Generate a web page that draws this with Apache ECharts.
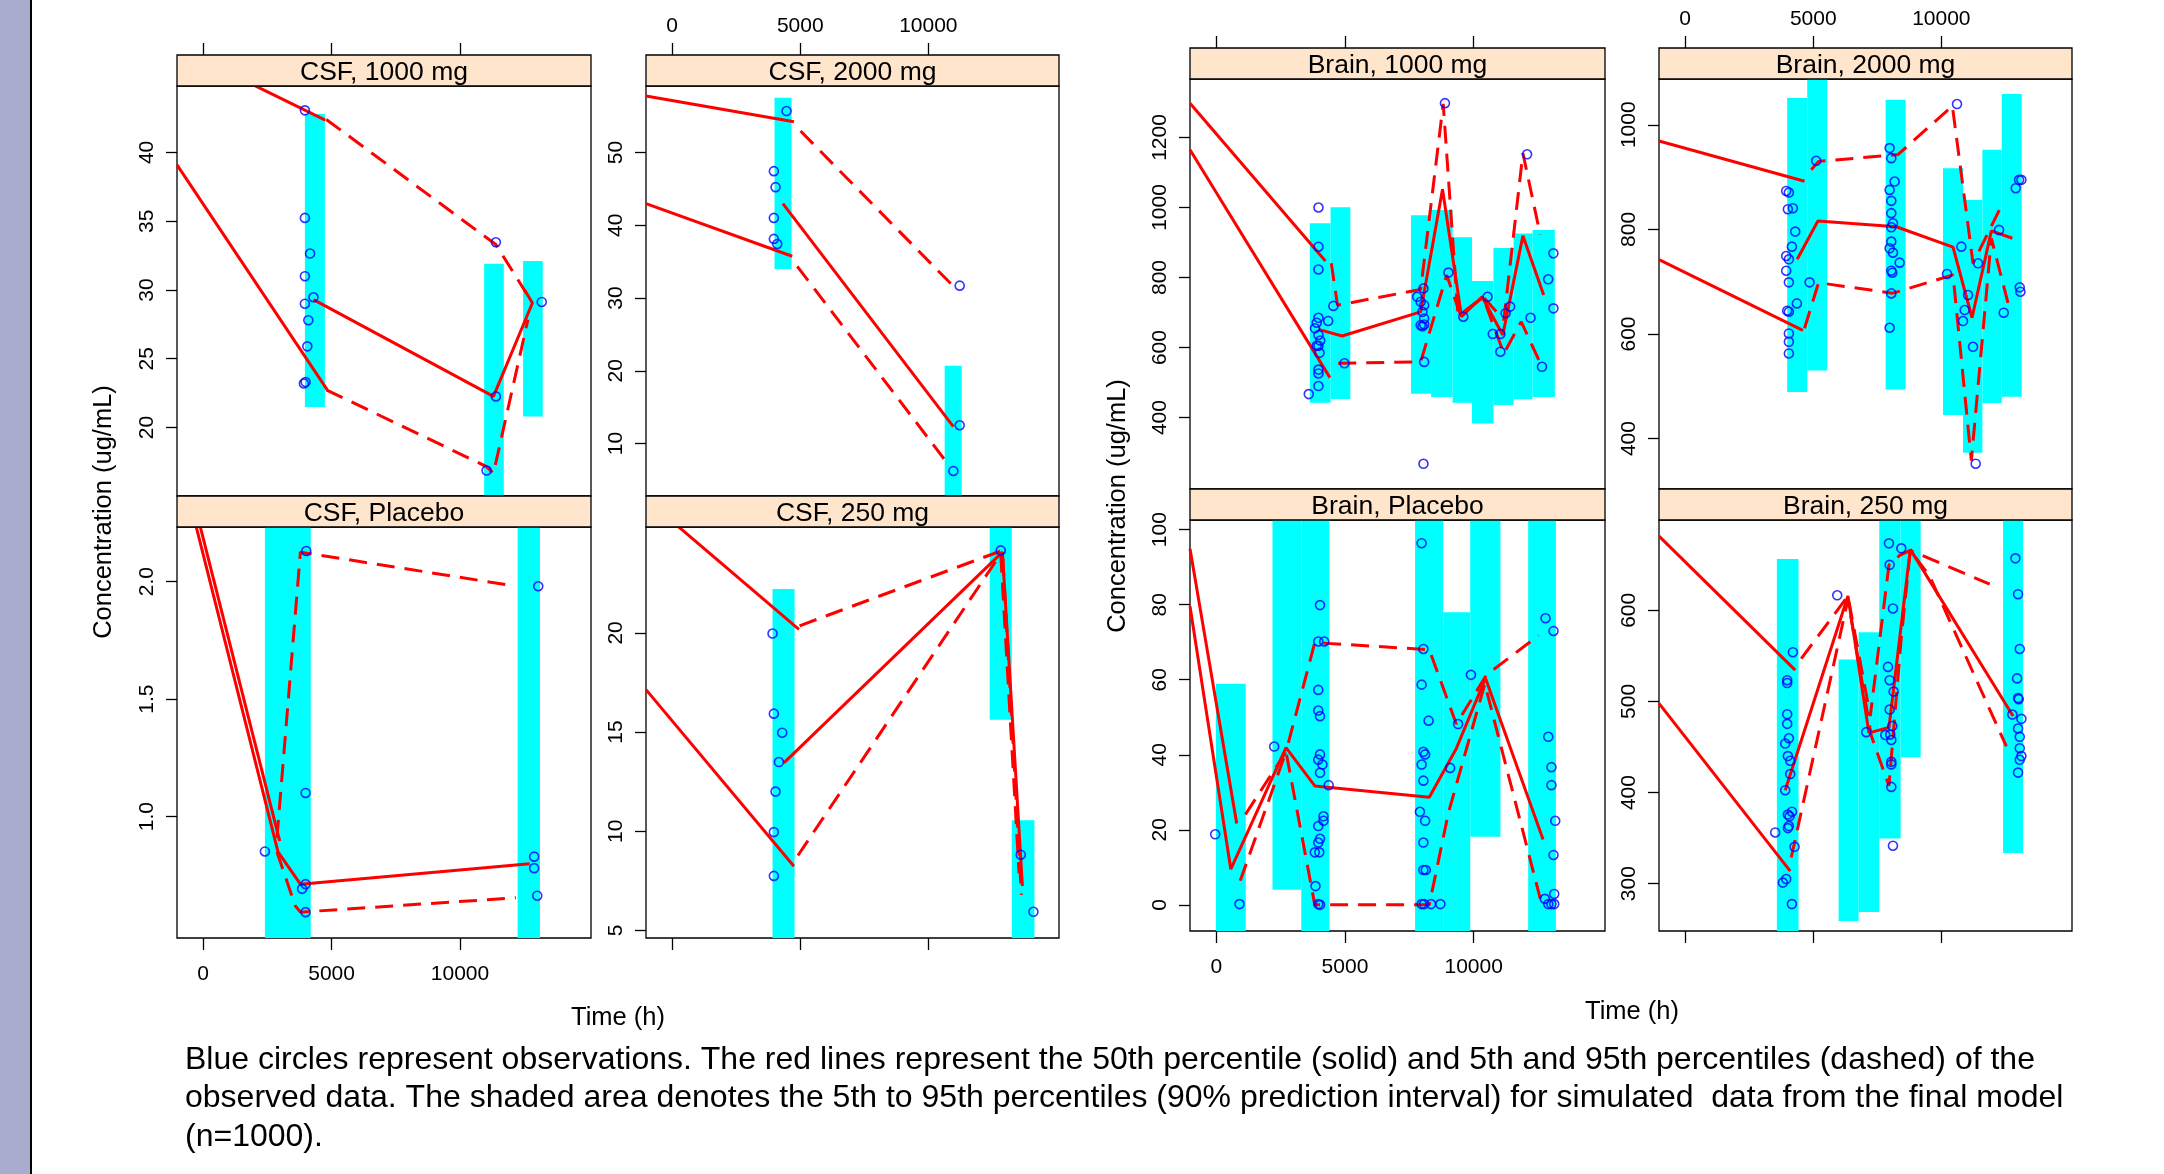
<!DOCTYPE html>
<html>
<head>
<meta charset="utf-8">
<script src="https://cdn.jsdelivr.net/npm/echarts@6/dist/echarts.min.js"></script>
<style>
html,body{margin:0;padding:0;background:#fff;}
#chart{width:2164px;height:1174px;}
</style>
</head>
<body>
<div id="chart"></div>
<script>
// ---------------- DATA ----------------
// time axis shared by all panels
const X_RANGE = [-1020, 15100];
const X_TICKS = [0, 5000, 10000];

// ---- CSF, 1000 mg ----
const CSF1000_Y = [15.02, 44.83];
const CSF1000_YTICKS = [20, 25, 30, 35, 40];
const CSF1000_PI = [[3960,4738,21.5,42.8],[10940,11705,10,31.9],[12456,13221,20.8,32.1]];
const CSF1000_SOLID = [
  [[-1020,39.1],[4832,22.74]],
  [[-1020,47.63],[4752,42.35]],
  [[4295,29.3],[11302,22.26],[12819,29.05],[12510,30.02]]
];
const CSF1000_DASHED = [
  [[4792,42.4],[11396,33.3],[12577,29.78]],
  [[4792,22.74],[11034,17.16],[11302,16.67],[12644,27.84]]
];
const CSF1000_OBS = [[3960,43.06],[3960,35.24],[4161,32.65],[3960,31.0],[4295,29.47],[3960,29.0],[4094,27.8],[4054,25.9],[3920,23.2],[3987,23.3],[11396,33.47],[11396,22.26],[11034,16.87],[13181,29.13]];

// ---- CSF, 2000 mg ----
const CSF2000_Y = [2.8, 59.13];
const CSF2000_YTICKS = [10, 20, 30, 40, 50];
const CSF2000_PI = [[3997,4661,33.99,57.52],[10638,11302,0,20.69]];
const CSF2000_SOLID = [
  [[-1020,57.75],[4753,54.22]],
  [[-1020,42.98],[4688,35.74]],
  [[4323,42.98],[10977,12.34]]
];
const CSF2000_DASHED = [
  [[5013,52.94],[10938,31.75]],
  [[4883,34.36],[10742,7.30]]
];
const CSF2000_OBS = [[4466,55.69],[3971,47.43],[4037,45.23],[3971,41.01],[3971,38.12],[4102,37.43],[11224,31.70],[11224,12.52],[10977,6.24]];

// ---- CSF, Placebo ----
const CSFPLA_Y = [0.484, 2.232];
const CSFPLA_YTICKS = [1.0, 1.5, 2.0];
const CSFPLA_PI = [[2403,4188,0,3],[12242,13114,0,3]];
const CSFPLA_SOLID = [
  [[-1020,2.558],[2913,0.85],[3785,0.713],[12711,0.80]],
  [[-1020,2.625],[2980,0.896]]
];
const CSFPLA_DASHED = [
  [[2872,0.91],[3785,2.125],[11907,1.985]],
  [[2872,0.85],[3584,0.621],[3785,0.594],[12175,0.655]]
];
const CSFPLA_OBS = [[2403,0.852],[4013,2.130],[3987,1.101],[3987,0.713],[3852,0.693],[3987,0.594],[13047,1.980],[12886,0.830],[12886,0.781],[13007,0.664]];

// ---- CSF, 250 mg ----
const CSF250_Y = [4.62, 25.34];
const CSF250_YTICKS = [5, 10, 15, 20];
const CSF250_PI = [[3919,4779,0,22.21],[12396,13255,15.62,30],[13255,14141,0,10.56]];
const CSF250_SOLID = [
  [[-1020,26.75],[4948,20.18]],
  [[-1020,17.14],[4753,8.24]],
  [[4362,13.45],[12891,24.07],[13672,7.24]]
];
const CSF250_DASHED = [
  [[4974,20.36],[12891,24.16],[13633,6.79]],
  [[4909,8.78],[12826,23.98],[13542,7.88]]
];
const CSF250_OBS = [[3919,19.97],[3971,15.93],[4297,14.97],[4167,13.49],[4036,12.00],[3971,9.96],[3971,7.75],[12826,24.16],[13607,8.82],[14102,5.94]];

// ---- Brain, 1000 mg ----
const BR1000_Y = [196, 1367];
const BR1000_YTICKS = [400, 600, 800, 1000, 1200];
const BR1000_PI = [[3634,4441,442,955],[4441,5208,453,1001],[7564,8345,468,978],[8345,9179,459,993],[9179,9933,442,915],[9933,10767,383,790],[10767,11548,436,884],[11548,12288,452,926],[12288,13150,459,936]];
const BR1000_SOLID = [
  [[-1020,1298],[4240,847]],
  [[-1020,1165],[4415,514]],
  [[3970,652],[4886,633],[7941,702],[8789,1052],[9529,688],[10323,745],[11131,636],[11911,919],[12719,750]]
];
const BR1000_DASHED = [
  [[4468,841],[4711,721],[7941,766],[8816,1296],[9394,690],[10363,745],[11171,679],[11911,1155],[12584,922]],
  [[4738,555],[7941,559],[8950,807],[9489,693],[10363,743],[11171,583],[11844,674],[12652,545]]
];
const BR1000_OBS = [[3970,1000],[3970,888],[3970,823],[4549,719],[4347,676],[3970,685],[3903,671],[3836,655],[3970,636],[4038,620],[3970,605],[3903,605],[4011,585],[3970,537],[3970,526],[3970,490],[3594,467],[4980,555],
  [7806,745],[8048,769],[7941,731],[8075,721],[8008,702],[8075,683],[8008,661],[8075,666],[7941,664],[8075,559],[8048,268],[8883,1298],[9017,814],[9596,688],[10538,745],[10740,639],[11036,639],[11036,588],[11238,698],[11413,717],[12073,1152],[12208,685],[12652,545],[12894,795],[13096,869],[13096,712]];

// ---- Brain, 2000 mg ----
const BR2000_Y = [303.6, 1087.5];
const BR2000_YTICKS = [400, 600, 800, 1000];
const BR2000_PI = [[3984,4766,489,1051],[4766,5547,530,1150],[7826,8607,494,1048],[10065,10846,445,917],[10846,11602,373,856],[11602,12357,468,952],[12357,13138,480,1059]];
const BR2000_SOLID = [
  [[-1020,969],[4661,892]],
  [[-1020,742],[4596,607]],
  [[4375,743],[5182,816],[8242,805],[10456,766],[11198,631],[11953,797],[12773,783]]
];
const BR2000_DASHED = [
  [[4922,914],[5208,930],[8307,943],[10430,1036],[11237,735],[12344,845]],
  [[4661,611],[5208,698],[8112,678],[10456,713],[11172,358],[11953,783],[12604,659]]
];
const BR2000_OBS = [[3945,873.5],[4049,870.4],[4010,838.5],[4206,840.4],[4297,795.7],[4167,767.0],[3945,749.1],[4049,742.8],[3945,721.0],[4049,698.7],[4362,658.5],[3984,644.5],[4049,642.5],[4049,601.0],[4049,585.1],[4049,562.7],[4857,698.7],[5117,931.1],
  [7982,955.4],[8047,936.2],[8177,891.5],[7982,875.5],[8047,854.5],[8047,831.0],[8112,811.7],[8047,804.0],[8047,776.6],[7982,763.8],[8112,755.5],[8372,736.4],[8047,721.0],[8086,717.2],[8047,677.6],[7982,611.9],
  [10612,1039.6],[10222,714.7],[10781,767.0],[11042,674.5],[10912,645.7],[10846,624.7],[11237,575.5],[11341,352.0],[11432,735.1],[12253,799.0],[12435,640.6],[12904,878.7],[13034,894.7],[13125,894.7],[13060,689.1],[13086,680.8]];

// ---- Brain, Placebo ----
const BRPLA_Y = [-6.97, 102.58];
const BRPLA_YTICKS = [0, 20, 40, 60, 80, 100];
const BRPLA_PI = [[-13,1146,-20,58.9],[2183,3302,4.0,120],[3302,4394,-20,120],[7722,8814,-20,120],[8814,9865,-20,78.0],[9865,11038,18.15,120],[12116,13194,-20,120]];
const BRPLA_SOLID = [
  [[-1020,94.9],[795,21.7]],
  [[-1020,79.6],[566,9.5],[2709,41.9],[3828,31.7],[8275,28.7],[9326,41.7],[10458,60.4],[12695,17.4]]
];
const BRPLA_DASHED = [
  [[1132,24.07],[2709,40.8],[3828,69.9],[8275,68.0],[9326,48.2],[10499,61.3],[12520,71.8]],
  [[930,6.4],[2709,40.8],[3828,0],[8275,0],[9016,24.5],[10432,58.9],[12588,1.6]]
];
const BRPLA_OBS = [[-40,18.8],[903,0.2],[2251,42.2],[4030,79.9],[3963,70.2],[4192,70.2],[3963,57.3],[3963,51.8],[4030,50.3],[4030,40.1],[3963,38.7],[4124,37.4],[4030,35.2],[4367,31.9],[4165,23.6],[4165,22.4],[3963,21.0],[4030,17.6],[3963,16.6],[3828,14.0],[4003,14.0],[3855,5.0],[3963,0.2],[4030,0],
  [7978,96.4],[8046,68.2],[7978,58.7],[8046,40.8],[8113,40.1],[7978,37.4],[8046,33.1],[8248,49.1],[7911,24.8],[8113,22.4],[8046,16.6],[8046,9.3],[8140,9.3],[7978,0.2],[8073,0.2],[8342,0.2],[8706,0.2],[9084,36.5],[9394,48.2],[9892,61.3],
  [12790,76.4],[13100,73.0],[12898,44.8],[13019,36.7],[13019,31.9],[13167,22.4],[13100,13.3],[13127,2.9],[12763,1.6],[12898,0.2],[13019,0.2],[13127,0.2]];

// ---- Brain, 250 mg ----
const BR250_Y = [248.1, 699.1];
const BR250_YTICKS = [300, 400, 500, 600];
const BR250_PI = [[3581,4427,200,656.2],[5990,6771,259.1,546.1],[6771,7578,268.9,576.0],[7578,8411,349.5,720],[8411,9193,438.8,720],[12409,13190,333.8,720]];
const BR250_SOLID = [
  [[-1020,681.4],[4297,534.3]],
  [[-1020,497.8],[4102,313.8]],
  [[3906,402.6],[6354,615.7],[7174,465.5],[7956,471.4],[8789,666.9],[12799,484.0]]
];
const BR250_DASHED = [
  [[4531,546.9],[6354,615.7],[7227,484.0],[7956,649.9],[8372,660.2],[8789,665.7],[11888,628.7]],
  [[4141,328.7],[6354,611.8],[7266,462.4],[7956,407.3],[8438,570.5],[8789,665.7],[9544,637.4],[12539,450.6]]
];
const BR250_OBS = [[4206,554],[3984,523.3],[3984,520.2],[3984,486],[3984,475.4],[4050,459.6],[3906,453.8],[4010,440],[4102,434.9],[4102,420.3],[3906,402.6],[4010,375.9],[4076,373.9],[4167,379],[4050,363.3],[4010,361],[3516,356.2],[4271,340.5],[3945,305.1],[3815,301.2],[4167,277.6],
  [5937,616.5],[7070,466.3],[7813,463.2],[7956,673.5],[7982,649.9],[8112,602],[7917,537.9],[7982,523.3],[8138,510.8],[7982,491.1],[8086,473],[8008,463.6],[8047,457.7],[8047,433.7],[8047,430.9],[8047,406.2],[8112,341.7],[8437,668],
  [12891,657],[12995,617.7],[13060,557.6],[12956,525.3],[12995,503.7],[13021,502.5],[12773,485.6],[13125,480.9],[12995,470.3],[13060,461.2],[13060,448.7],[13125,440],[13060,436],[12995,421.9]];

const PANEL_TITLES = ['CSF, 1000 mg','CSF, 2000 mg','CSF, Placebo','CSF, 250 mg','Brain, 1000 mg','Brain, 2000 mg','Brain, Placebo','Brain, 250 mg'];
const Y_TITLE = 'Concentration (ug/mL)';
const X_TITLE = 'Time (h)';
const CAPTION = [
  'Blue circles represent observations. The red lines represent the 50th percentile (solid) and 5th and 95th percentiles (dashed) of the',
  'observed data. The shaded area denotes the 5th to 95th percentiles (90% prediction interval) for simulated  data from the final model',
  '(n=1000).'
];

// ---------------- LAYOUT ----------------
const FONT = '"Liberation Sans", Arial, Helvetica, sans-serif';
const STRIP_H = 31;
const TICK_FONT = 21;
const PANELS = [
  {data:[CSF1000_Y,CSF1000_YTICKS,CSF1000_PI,CSF1000_SOLID,CSF1000_DASHED,CSF1000_OBS], left:177, top:86, w:414, h:410, xpos:'top', xlab:false},
  {data:[CSF2000_Y,CSF2000_YTICKS,CSF2000_PI,CSF2000_SOLID,CSF2000_DASHED,CSF2000_OBS], left:646, top:86, w:413, h:410, xpos:'top', xlab:true},
  {data:[CSFPLA_Y,CSFPLA_YTICKS,CSFPLA_PI,CSFPLA_SOLID,CSFPLA_DASHED,CSFPLA_OBS], left:177, top:527, w:414, h:411, xpos:'bottom', xlab:true, fmt:1},
  {data:[CSF250_Y,CSF250_YTICKS,CSF250_PI,CSF250_SOLID,CSF250_DASHED,CSF250_OBS], left:646, top:527, w:413, h:411, xpos:'bottom', xlab:false},
  {data:[BR1000_Y,BR1000_YTICKS,BR1000_PI,BR1000_SOLID,BR1000_DASHED,BR1000_OBS], left:1190, top:79, w:415, h:410, xpos:'top', xlab:false},
  {data:[BR2000_Y,BR2000_YTICKS,BR2000_PI,BR2000_SOLID,BR2000_DASHED,BR2000_OBS], left:1659, top:79, w:413, h:410, xpos:'top', xlab:true},
  {data:[BRPLA_Y,BRPLA_YTICKS,BRPLA_PI,BRPLA_SOLID,BRPLA_DASHED,BRPLA_OBS], left:1190, top:520, w:415, h:411, xpos:'bottom', xlab:true},
  {data:[BR250_Y,BR250_YTICKS,BR250_PI,BR250_SOLID,BR250_DASHED,BR250_OBS], left:1659, top:520, w:413, h:411, xpos:'bottom', xlab:false}
];

const grids = [], xAxes = [], yAxes = [], series = [], graphics = [];

// slide decoration at left
graphics.push({type:'rect', shape:{x:0, y:0, width:30, height:1174}, style:{fill:'#A9ACCF'}, silent:true});
graphics.push({type:'rect', shape:{x:30, y:0, width:2, height:1174}, style:{fill:'#000'}, silent:true});

PANELS.forEach((p, i) => {
  const [yr, yt, pi, solid, dashed, obs] = p.data;
  grids.push({left:p.left, top:p.top, width:p.w, height:p.h, show:true, borderColor:'#000', borderWidth:1.3, backgroundColor:'rgba(0,0,0,0)', containLabel:false});
  xAxes.push({
    gridIndex:i, type:'value', min:X_RANGE[0], max:X_RANGE[1], position:p.xpos,
    offset: p.xpos === 'top' ? STRIP_H : 0,
    axisLine:{show:false, onZero:false}, splitLine:{show:false},
    axisTick:{show:true, length:12, inside:false, customValues:X_TICKS, lineStyle:{color:'#000', width:1.3}},
    axisLabel:{show:p.xlab, customValues:X_TICKS, fontSize:TICK_FONT, color:'#000', fontFamily:FONT,
      margin: p.xpos === 'top' ? 18 : 26, formatter: v => String(v)}
  });
  yAxes.push({
    gridIndex:i, type:'value', min:yr[0], max:yr[1], position:'left',
    axisLine:{show:false, onZero:false}, splitLine:{show:false},
    axisTick:{show:true, length:11, inside:false, customValues:yt, lineStyle:{color:'#000', width:1.3}},
    axisLabel:{show:true, customValues:yt, rotate:90, fontSize:TICK_FONT, color:'#000', fontFamily:FONT, margin:19,
      formatter: p.fmt ? (v => Number(v).toFixed(1)) : (v => String(v))}
  });
  series.push({
    type:'custom', xAxisIndex:i, yAxisIndex:i, silent:true, z:1,
    data: pi,
    encode:{x:[0,1], y:[2,3]},
    renderItem:(params, api) => {
      const a = api.coord([api.value(0), api.value(3)]);
      const b = api.coord([api.value(1), api.value(2)]);
      const cs = params.coordSys;
      const r = echarts.graphic.clipRectByRect(
        {x:a[0], y:a[1], width:b[0]-a[0], height:b[1]-a[1]},
        {x:cs.x, y:cs.y, width:cs.width, height:cs.height});
      return r ? {type:'rect', shape:r, style:{fill:'#00FFFF'}} : null;
    }
  });
  solid.forEach(line => series.push({
    type:'line', xAxisIndex:i, yAxisIndex:i, data:line, showSymbol:false, symbol:'none', silent:true, z:2, clip:true,
    lineStyle:{color:'#FF0000', width:3, type:'solid'}
  }));
  dashed.forEach(line => series.push({
    type:'line', xAxisIndex:i, yAxisIndex:i, data:line, showSymbol:false, symbol:'none', silent:true, z:2, clip:true,
    lineStyle:{color:'#FF0000', width:3, type:[18,10]}
  }));
  series.push({
    type:'scatter', xAxisIndex:i, yAxisIndex:i, data:obs, symbol:'circle', symbolSize:9, silent:true, z:3,
    itemStyle:{color:'rgba(0,0,0,0)', borderColor:'#0000FF', borderWidth:1.6}
  });
  // strip
  graphics.push({type:'rect', shape:{x:p.left, y:p.top - STRIP_H, width:p.w, height:STRIP_H}, style:{fill:'#FFE5CC', stroke:'#000', lineWidth:1.3}, silent:true, z:5});
  graphics.push({type:'text', x:p.left + p.w/2, y:p.top - STRIP_H/2 + 2, silent:true, z:6,
    style:{text:PANEL_TITLES[i], fill:'#000', font:'26.5px ' + FONT, textAlign:'center', textVerticalAlign:'middle'}});
});

// axis titles
graphics.push({type:'text', x:104, y:512, rotation:Math.PI/2, silent:true,
  style:{text:Y_TITLE, fill:'#000', font:'25.5px ' + FONT, textAlign:'center', textVerticalAlign:'middle'}});
graphics.push({type:'text', x:1118, y:506, rotation:Math.PI/2, silent:true,
  style:{text:Y_TITLE, fill:'#000', font:'25.5px ' + FONT, textAlign:'center', textVerticalAlign:'middle'}});
graphics.push({type:'text', x:618, y:1018, silent:true,
  style:{text:X_TITLE, fill:'#000', font:'25.5px ' + FONT, textAlign:'center', textVerticalAlign:'middle'}});
graphics.push({type:'text', x:1632, y:1012, silent:true,
  style:{text:X_TITLE, fill:'#000', font:'25.5px ' + FONT, textAlign:'center', textVerticalAlign:'middle'}});
// caption
CAPTION.forEach((t, k) => graphics.push({type:'text', x:185, y:1060 + k*38.6, silent:true,
  style:{text:t, fill:'#000', font:'32px ' + FONT, textAlign:'left', textVerticalAlign:'middle'}}));

const chart = echarts.init(document.getElementById('chart'), null, {renderer:'canvas', width:2164, height:1174});
chart.setOption({
  animation:false,
  backgroundColor:'#fff',
  grid:grids, xAxis:xAxes, yAxis:yAxes, series:series,
  graphic:{elements:graphics}
});
</script>
</body>
</html>
